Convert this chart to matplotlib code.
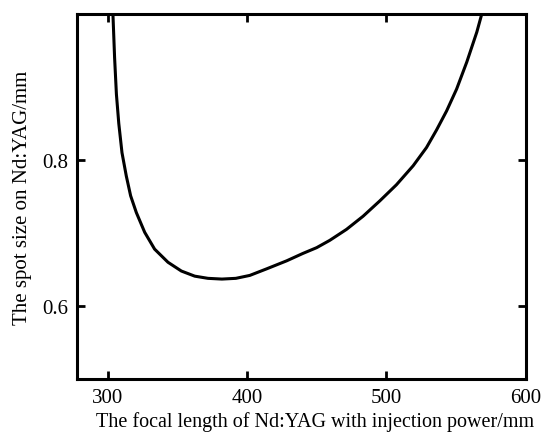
import matplotlib.pyplot as plt

# points
focal_mm = [303.8, 305.0, 306.3, 308.0, 310.3, 313.4, 316.5, 320.6, 326.6, 333.7,
            343.3, 352.9, 362.5, 372.0, 382.0, 392.0, 402.0, 414.1, 428.5, 440.0,
            450.0, 459.4, 471.4, 483.3, 495.3, 507.2, 519.2, 528.8, 536.0, 543.2,
            550.4, 557.7, 564.9, 568.5]
spot_mm = [1.0, 0.940, 0.890, 0.850, 0.810, 0.778, 0.751, 0.728, 0.701, 0.678,
           0.660, 0.648, 0.641, 0.638, 0.637, 0.638, 0.642, 0.651, 0.662, 0.672,
           0.680, 0.690, 0.705, 0.723, 0.744, 0.766, 0.792, 0.817, 0.841, 0.867,
           0.897, 0.934, 0.975, 1.0]

xticks = [300, 400, 500, 600]
yticks = [0.6, 0.8]

plt.rcParams['font.family'] = ['Liberation Serif', 'DejaVu Serif']

fig = plt.figure(figsize=(5.42, 4.35), dpi=100)
ax = fig.add_axes([0.142, 0.126, 0.828, 0.840])

ax.plot(focal_mm, spot_mm, color='black', lw=2.2, solid_joinstyle='round')

ax.set_xlim(278, 600)
ax.set_ylim(0.5, 1.0)
ax.set_xticks(xticks)
ax.set_yticks(yticks)
ax.set_yticklabels(['0.6', '0.8'])
ax.tick_params(direction='in', top=True, right=True, length=6, width=2,
               labelsize=15, pad=6)
for s in ax.spines.values():
    s.set_linewidth(2.2)

ax.set_xlabel('The focal length of Nd:YAG with injection power/mm', fontsize=14.5, labelpad=3)
ax.xaxis.label.set_x(0.53)
ax.set_ylabel('The spot size on Nd:YAG/mm', fontsize=15, labelpad=8)

fig.savefig('out.png', dpi=100)
